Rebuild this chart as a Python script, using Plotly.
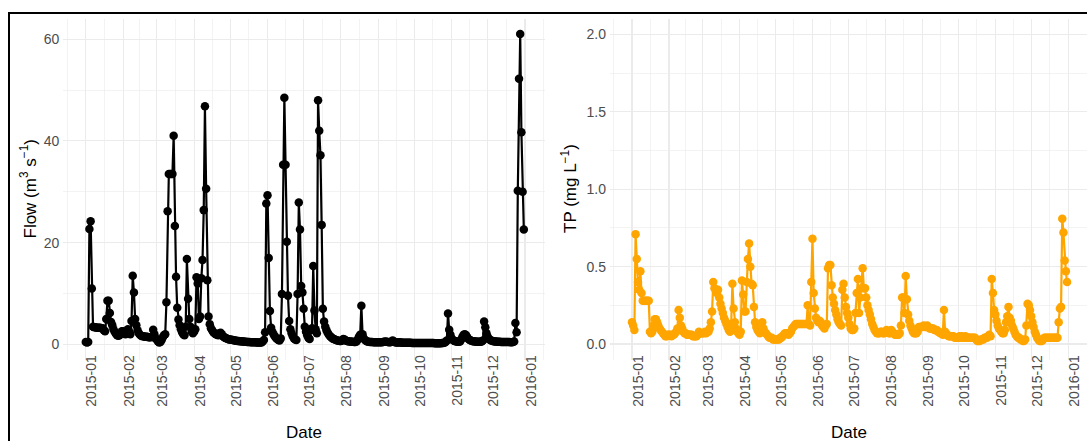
import pandas as pd
import plotly.graph_objects as go

# ---------------- data (daily, 2015) ----------------
flow_jan = [0.5, 0.4, 0.5, 22.7, 24.2, 11.0, 3.5, 3.4, 3.4, 3.3, 3.3, 3.3, 3.3, 3.2, 3.2, 2.8, 2.6, 5.0, 8.6, 8.6, 6.2, 4.4, 3.8, 3.0, 2.5, 2.1, 1.8, 1.7, 1.8, 2.2, 2.6]
flow_feb = [2.6, 2.3, 2.0, 2.5, 3.0, 2.6, 2.0, 4.6, 13.5, 10.2, 5.0, 3.8, 2.8, 2.2, 1.9, 1.7, 1.6, 1.6, 1.5, 1.5, 1.5, 1.4, 1.4, 1.4, 1.5, 2.9, 2.0, 1.2]
flow_mar = [1.0, 0.6, 0.4, 0.5, 0.9, 1.4, 1.8, 2.0, 8.3, 26.2, 33.5, 33.5, 33.5, 33.5, 41.0, 23.3, 13.3, 7.2, 4.9, 3.8, 3.0, 2.4, 2.0, 1.8, 3.5, 16.8, 9.0, 5.0, 3.5, 2.5, 2.2]
flow_apr = [2.5, 3.0, 13.2, 12.0, 5.0, 5.5, 13.0, 16.6, 26.4, 46.8, 30.6, 12.6, 5.5, 4.0, 3.2, 2.8, 2.4, 2.2, 2.0, 1.9, 1.8, 2.2, 2.3, 2.0, 1.6, 1.4, 1.3, 1.2, 1.1, 1.0]
flow_may = [1.0, 0.95, 0.9, 0.85, 0.8, 0.75, 0.7, 0.68, 0.65, 0.62, 0.6, 0.58, 0.55, 0.53, 0.5, 0.5, 0.48, 0.46, 0.45, 0.44, 0.43, 0.42, 0.41, 0.4, 0.4, 0.4, 0.4, 0.6, 0.9, 2.4, 27.7]
flow_jun = [29.3, 17.0, 6.6, 3.3, 2.5, 2.0, 1.6, 1.3, 1.1, 0.9, 0.8, 1.2, 9.9, 35.3, 48.5, 35.3, 20.2, 9.6, 4.6, 3.0, 2.2, 1.6, 1.2, 1.0, 0.9, 9.9, 27.9, 22.6, 11.5, 10.2]
flow_jul = [7.0, 3.5, 2.5, 1.8, 1.3, 1.1, 2.8, 3.2, 15.4, 6.7, 3.0, 2.2, 48.0, 42.0, 37.2, 23.5, 7.0, 4.5, 3.5, 2.8, 2.3, 1.9, 1.6, 1.4, 1.2, 1.1, 1.0, 0.9, 0.8, 0.75, 0.7]
flow_aug = [0.7, 0.8, 1.1, 1.0, 0.8, 0.7, 0.65, 0.6, 0.6, 0.55, 0.55, 0.5, 0.5, 0.6, 1.0, 1.5, 1.9, 7.6, 2.0, 1.2, 0.9, 0.7, 0.6, 0.55, 0.5, 0.5, 0.48, 0.46, 0.45, 0.45, 0.44]
flow_sep = [0.43, 0.42, 0.42, 0.45, 0.5, 0.55, 0.6, 0.55, 0.5, 0.45, 0.42, 0.6, 0.8, 0.6, 0.45, 0.4, 0.38, 0.37, 0.45, 0.4, 0.36, 0.35, 0.34, 0.34, 0.33, 0.33, 0.32, 0.32, 0.31, 0.31]
flow_oct = [0.31, 0.3, 0.3, 0.3, 0.3, 0.29, 0.29, 0.29, 0.28, 0.28, 0.28, 0.28, 0.27, 0.27, 0.27, 0.27, 0.27, 0.26, 0.26, 0.26, 0.26, 0.26, 0.26, 0.27, 0.3, 0.35, 0.5, 0.8, 6.1, 2.9, 1.9]
flow_nov = [1.2, 0.9, 0.75, 0.65, 0.6, 0.55, 0.55, 0.6, 1.0, 1.5, 1.9, 2.0, 1.8, 1.4, 1.1, 0.9, 0.8, 0.7, 0.65, 0.6, 0.58, 0.55, 0.55, 0.55, 0.55, 0.6, 0.8, 4.5, 3.4, 2.2]
flow_dec = [1.5, 1.1, 0.9, 0.8, 0.7, 0.65, 0.6, 0.58, 0.55, 0.55, 0.52, 0.5, 0.5, 0.5, 0.5, 0.48, 0.48, 0.47, 0.47, 0.46, 0.46, 0.5, 0.6, 4.2, 2.4, 30.2, 52.2, 61.0, 41.7, 30.0, 22.6]

tp_jan = [0.14, 0.12, 0.09, 0.71, 0.55, 0.40, 0.35, 0.47, 0.33, 0.28, 0.28, 0.28, 0.28, 0.28, 0.28, 0.08, 0.07, 0.08, 0.12, 0.16, 0.16, 0.14, 0.12, 0.10, 0.09, 0.08, 0.07, 0.06, 0.05, 0.05, 0.06]
tp_feb = [0.06, 0.06, 0.05, 0.06, 0.06, 0.07, 0.08, 0.10, 0.22, 0.17, 0.12, 0.10, 0.08, 0.07, 0.07, 0.06, 0.06, 0.06, 0.06, 0.06, 0.05, 0.05, 0.05, 0.05, 0.06, 0.08, 0.07, 0.07]
tp_mar = [0.07, 0.07, 0.08, 0.07, 0.08, 0.08, 0.10, 0.14, 0.21, 0.40, 0.36, 0.35, 0.33, 0.35, 0.30, 0.26, 0.23, 0.20, 0.17, 0.15, 0.13, 0.11, 0.09, 0.08, 0.13, 0.39, 0.23, 0.14, 0.10, 0.08, 0.07]
tp_apr = [0.06, 0.08, 0.41, 0.32, 0.21, 0.21, 0.40, 0.55, 0.65, 0.50, 0.39, 0.38, 0.24, 0.14, 0.11, 0.09, 0.08, 0.07, 0.10, 0.14, 0.10, 0.08, 0.07, 0.06, 0.05, 0.04, 0.04, 0.04, 0.03, 0.03]
tp_may = [0.03, 0.03, 0.03, 0.03, 0.04, 0.04, 0.05, 0.06, 0.07, 0.07, 0.07, 0.06, 0.07, 0.08, 0.10, 0.11, 0.12, 0.13, 0.13, 0.13, 0.13, 0.13, 0.13, 0.13, 0.13, 0.13, 0.13, 0.25, 0.13, 0.12, 0.40]
tp_jun = [0.68, 0.33, 0.23, 0.17, 0.15, 0.14, 0.15, 0.14, 0.12, 0.11, 0.10, 0.12, 0.13, 0.49, 0.51, 0.51, 0.38, 0.30, 0.26, 0.22, 0.19, 0.16, 0.14, 0.13, 0.12, 0.35, 0.39, 0.30, 0.24, 0.20]
tp_jul = [0.17, 0.13, 0.10, 0.09, 0.09, 0.10, 0.20, 0.33, 0.42, 0.20, 0.30, 0.36, 0.49, 0.36, 0.36, 0.30, 0.25, 0.22, 0.19, 0.16, 0.13, 0.11, 0.09, 0.08, 0.07, 0.07, 0.07, 0.08, 0.08, 0.07, 0.07]
tp_aug = [0.08, 0.09, 0.08, 0.07, 0.07, 0.09, 0.08, 0.07, 0.06, 0.06, 0.06, 0.06, 0.07, 0.12, 0.30, 0.30, 0.20, 0.44, 0.29, 0.19, 0.15, 0.12, 0.10, 0.08, 0.07, 0.07, 0.07, 0.08, 0.11, 0.11, 0.11]
tp_sep = [0.11, 0.12, 0.11, 0.11, 0.12, 0.11, 0.10, 0.10, 0.10, 0.10, 0.09, 0.09, 0.09, 0.08, 0.08, 0.07, 0.07, 0.06, 0.22, 0.08, 0.06, 0.06, 0.05, 0.05, 0.05, 0.05, 0.05, 0.04, 0.04, 0.04]
tp_oct = [0.04, 0.05, 0.04, 0.05, 0.04, 0.04, 0.05, 0.04, 0.04, 0.04, 0.04, 0.04, 0.04, 0.04, 0.04, 0.03, 0.02, 0.02, 0.02, 0.03, 0.03, 0.03, 0.04, 0.04, 0.04, 0.05, 0.06, 0.05, 0.42, 0.33, 0.22]
tp_nov = [0.19, 0.15, 0.12, 0.10, 0.09, 0.08, 0.07, 0.07, 0.09, 0.14, 0.18, 0.24, 0.17, 0.15, 0.12, 0.10, 0.08, 0.06, 0.05, 0.04, 0.04, 0.03, 0.03, 0.02, 0.02, 0.03, 0.12, 0.26, 0.25, 0.22]
tp_dec = [0.18, 0.14, 0.11, 0.08, 0.06, 0.04, 0.03, 0.02, 0.02, 0.02, 0.03, 0.04, 0.04, 0.04, 0.04, 0.04, 0.04, 0.04, 0.04, 0.04, 0.04, 0.04, 0.04, 0.14, 0.23, 0.24, 0.81, 0.72, 0.54, 0.47, 0.40]

flow_months = [flow_jan, flow_feb, flow_mar, flow_apr, flow_may, flow_jun,
               flow_jul, flow_aug, flow_sep, flow_oct, flow_nov, flow_dec]
tp_months = [tp_jan, tp_feb, tp_mar, tp_apr, tp_may, tp_jun,
             tp_jul, tp_aug, tp_sep, tp_oct, tp_nov, tp_dec]

flow = [v for m in flow_months for v in m]
tp = [v for m in tp_months for v in m]
dates = pd.date_range("2015-01-01", periods=len(flow), freq="D")

x_title = "Date"
flow_title = "Flow (m<sup>3</sup> s<sup>\u22121</sup>)"
tp_title = "TP (mg L<sup>\u22121</sup>)"

# ---------------- layout helpers ----------------
W, H = 1087, 441
def px(x):
    return x / W
def py(y):
    return 1 - y / H

FONT = "Liberation Sans, Arial, sans-serif"
GRID = "#EBEBEB"
TICKC = "#4D4D4D"

jan1 = pd.Timestamp("2015-01-01")
def drange(a, b):
    return [(jan1 + pd.Timedelta(days=a)).strftime("%Y-%m-%d %H:%M:%S"),
            (jan1 + pd.Timedelta(days=b)).strftime("%Y-%m-%d %H:%M:%S")]

months = pd.date_range("2014-12-01", "2016-02-01", freq="MS")
minor_x = [(months[i] + (months[i + 1] - months[i]) / 2).strftime("%Y-%m-%d %H:%M:%S")
           for i in range(len(months) - 1)]

fig = go.Figure()
fig.add_trace(go.Scatter(x=dates, y=flow, mode="lines+markers",
                         line=dict(color="#000000", width=2.2),
                         marker=dict(color="#000000", size=8.5),
                         xaxis="x", yaxis="y", showlegend=False, hoverinfo="skip"))
fig.add_trace(go.Scatter(x=dates, y=tp, mode="lines+markers",
                         line=dict(color="#FFA500", width=2.2),
                         marker=dict(color="#FFA500", size=8.5),
                         xaxis="x2", yaxis="y2", showlegend=False, hoverinfo="skip"))

def xaxis(domain, rng, anchor):
    return dict(type="date", domain=domain, range=rng, anchor=anchor,
                tickformat="%Y-%m", dtick="M1", tick0="2015-01-01",
                tickangle=-90, ticks="", showline=False, zeroline=False,
                showgrid=True, gridcolor=GRID, gridwidth=1.1,
                tickfont=dict(family=FONT, size=14, color=TICKC),
                ticklabelstandoff=-8, ticklabelshift=6,
                minor=dict(tickmode="array", tickvals=minor_x, showgrid=True,
                           gridcolor=GRID, gridwidth=0.6))

def yaxis(domain, rng, dtick, minor_vals, fmt, anchor):
    return dict(domain=domain, range=rng, anchor=anchor, dtick=dtick, tick0=0,
                tickformat=fmt, ticks="", showline=False, zeroline=False,
                showgrid=True, gridcolor=GRID, gridwidth=1.1,
                tickfont=dict(family=FONT, size=14, color=TICKC),
                ticklabelstandoff=3,
                minor=dict(tickmode="array", tickvals=minor_vals, showgrid=True,
                           gridcolor=GRID, gridwidth=0.6))

ydom = [py(359.5), py(19)]
fig.update_layout(
    width=W, height=H, autosize=False,
    margin=dict(l=0, r=0, t=0, b=0),
    paper_bgcolor="white", plot_bgcolor="white",
    font=dict(family=FONT),
    xaxis=xaxis([px(63.3), px(545)], drange(-18.7, 381.6), "y"),
    yaxis=yaxis(ydom, [-2.95, 63.95], 20, [10, 30, 50], "d", "x"),
    xaxis2=xaxis([px(610), 1.0], drange(-18.4, 380.7), "y2"),
    yaxis2=yaxis(ydom, [-0.1, 2.1], 0.5, [0.25, 0.75, 1.25, 1.75], ".1f", "x2"),
    shapes=[dict(type="rect", xref="paper", yref="paper",
                 x0=px(9), x1=1.05, y0=-0.1, y1=py(13),
                 line=dict(color="#000000", width=2), fillcolor="rgba(0,0,0,0)",
                 layer="above")],
    annotations=[
        dict(text=flow_title, x=px(28.5), y=py(189), xref="paper", yref="paper",
             textangle=-90, showarrow=False, xanchor="center", yanchor="middle",
             font=dict(family=FONT, size=17, color="#000000")),
        dict(text=tp_title, x=px(569), y=py(189), xref="paper", yref="paper",
             textangle=-90, showarrow=False, xanchor="center", yanchor="middle",
             font=dict(family=FONT, size=17, color="#000000")),
        dict(text=x_title, x=px(304), y=py(432), xref="paper", yref="paper",
             showarrow=False, xanchor="center", yanchor="middle",
             font=dict(family=FONT, size=17, color="#000000")),
        dict(text=x_title, x=px(849), y=py(432), xref="paper", yref="paper",
             showarrow=False, xanchor="center", yanchor="middle",
             font=dict(family=FONT, size=17, color="#000000")),
    ],
)

fig.write_html("out.html", config={"displayModeBar": False, "staticPlot": True},
               post_script="document.body.style.margin='0';")
